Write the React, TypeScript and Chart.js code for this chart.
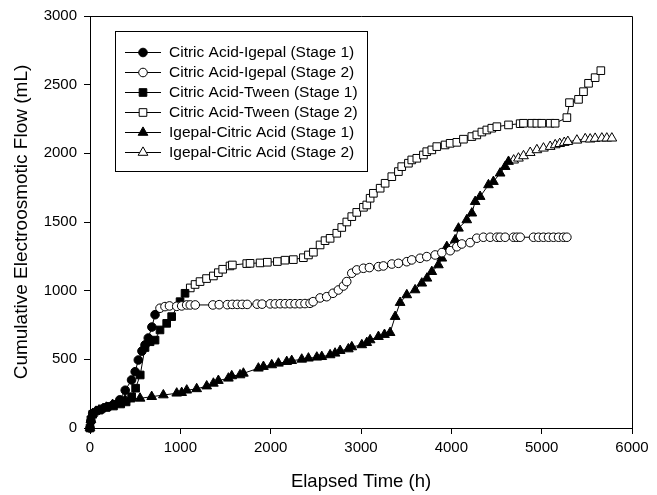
import React, { useEffect, useRef } from "react";
import { Chart, registerables } from "chart.js";
import { drawPoint } from "chart.js/helpers";

Chart.register(...registerables);

const FONT = 'Arial, "Liberation Sans", sans-serif';

// Citric Acid-Igepal (Stage 1)
const caIgS1Time = [0, 10, 30, 80, 140, 200, 260, 330, 390, 460, 500, 535, 575, 610, 645, 685, 720];
const caIgS1Flow = [0, 50, 105, 125, 140, 155, 170, 205, 275, 350, 410, 495, 560, 605, 655, 735, 825];

// Citric Acid-Igepal (Stage 2)
const caIgS2Time = [775, 830, 880, 960, 1015, 1070, 1110, 1165, 1360, 1430, 1520, 1575, 1630, 1685, 1740, 1850, 1905, 1995, 2050, 2105, 2160, 2215, 2270, 2325, 2380, 2436, 2470, 2547, 2620, 2690, 2750, 2806, 2842, 2898, 2953, 3027, 3093, 3193, 3248, 3341, 3414, 3507, 3562, 3654, 3728, 3821, 3895, 3987, 4061, 4116, 4208, 4282, 4355, 4430, 4504, 4540, 4596, 4688, 4725, 4762, 4910, 4965, 5020, 5076, 5131, 5187, 5242, 5279];
const caIgS2Flow = [872, 884, 889, 886, 889, 896, 896, 896, 896, 898, 898, 900, 900, 900, 900, 902, 902, 904, 904, 905, 905, 905, 905, 905, 906, 908, 920, 947, 956, 981, 1005, 1034, 1066, 1127, 1151, 1163, 1168, 1175, 1180, 1194, 1199, 1211, 1224, 1236, 1248, 1260, 1277, 1291, 1320, 1340, 1350, 1382, 1389, 1389, 1389, 1389, 1389, 1389, 1389, 1389, 1389, 1389, 1389, 1389, 1389, 1389, 1389, 1389];

// Citric Acid-Tween (Stage 1)
const caTwS1Time = [0, 10, 30, 100, 180, 260, 340, 400, 461, 505, 556, 609, 665, 720, 775, 849, 904, 997, 1052];
const caTwS1Flow = [0, 60, 100, 130, 150, 160, 175, 190, 228, 290, 386, 586, 628, 640, 714, 762, 811, 920, 981];

// Citric Acid-Tween (Stage 2)
const caTwS2Time = [1110, 1163, 1218, 1290, 1366, 1421, 1469, 1550, 1576, 1735, 1772, 1883, 1963, 2074, 2159, 2251, 2362, 2418, 2473, 2547, 2602, 2658, 2732, 2787, 2843, 2898, 2953, 3027, 3064, 3101, 3137, 3212, 3267, 3341, 3414, 3451, 3525, 3562, 3618, 3691, 3728, 3784, 3839, 3931, 3987, 4061, 4134, 4227, 4282, 4338, 4393, 4448, 4504, 4633, 4762, 4799, 4891, 4947, 5002, 5094, 5149, 5279, 5308, 5408, 5463, 5519, 5592, 5655];
const caTwS2Flow = [1020, 1045, 1066, 1088, 1107, 1131, 1156, 1180, 1187, 1197, 1199, 1202, 1207, 1212, 1222, 1226, 1240, 1260, 1280, 1333, 1364, 1381, 1418, 1460, 1500, 1539, 1570, 1607, 1624, 1673, 1709, 1746, 1782, 1830, 1867, 1903, 1928, 1952, 1964, 1988, 2012, 2025, 2049, 2061, 2073, 2080, 2103, 2122, 2134, 2155, 2170, 2183, 2194, 2207, 2216, 2219, 2219, 2219, 2219, 2219, 2219, 2260, 2369, 2393, 2449, 2510, 2551, 2602];

// Igepal-Citric Acid (Stage 1)
const igCaS1Time = [0, 10, 30, 100, 180, 250, 314, 388, 443, 554, 683, 812, 960, 1015, 1071, 1181, 1292, 1366, 1421, 1532, 1569, 1661, 1698, 1864, 1920, 2012, 2086, 2178, 2233, 2344, 2418, 2511, 2566, 2658, 2713, 2769, 2860, 2898, 3009, 3064, 3101, 3193, 3260, 3322, 3378, 3433, 3507, 3599, 3673, 3730, 3784, 3857, 3895, 3950, 4042, 4079, 4171, 4227, 4264, 4319, 4411, 4466, 4540, 4596, 4633];
const igCaS1Flow = [0, 60, 105, 130, 150, 170, 192, 205, 210, 216, 228, 240, 253, 257, 275, 285, 305, 325, 345, 362, 379, 386, 398, 435, 447, 459, 471, 483, 490, 500, 508, 515, 519, 532, 544, 563, 575, 590, 605, 621, 641, 665, 680, 694, 811, 913, 969, 1005, 1054, 1090, 1138, 1187, 1236, 1320, 1369, 1454, 1515, 1564, 1648, 1685, 1770, 1794, 1855, 1903, 1940];

// Igepal-Citric Acid (Stage 2)
const igCaS2Time = [4690, 4743, 4799, 4873, 4947, 5020, 5094, 5150, 5200, 5250, 5290, 5390, 5482, 5537, 5592, 5666, 5721, 5777];
const igCaS2Flow = [1950, 1964, 1981, 2005, 2025, 2037, 2049, 2061, 2070, 2078, 2085, 2095, 2105, 2103, 2108, 2110, 2110, 2110];

const seriesLabels = [
  "Citric Acid-Igepal (Stage 1)",
  "Citric Acid-Igepal (Stage 2)",
  "Citric Acid-Tween (Stage 1)",
  "Citric Acid-Tween (Stage 2)",
  "Igepal-Citric Acid (Stage 1)",
  "Igepal-Citric Acid (Stage 2)",
];

const xTicks = [0, 1000, 2000, 3000, 4000, 5000, 6000];
const yTicks = [0, 500, 1000, 1500, 2000, 2500, 3000];

const toPoints = (t: number[], f: number[]) => t.map((x, i) => ({ x, y: f[i] }));

const styleFor = (shape: string, filled: boolean) => {
  const radius = shape === "circle" ? 4.3 : shape === "rect" ? 5.4 : 5.6;
  return {
    pointStyle: shape,
    pointRadius: radius,
    pointHoverRadius: radius,
    pointBorderWidth: 1,
    pointBorderColor: "#000",
    pointBackgroundColor: filled ? "#000" : "#fff",
    borderColor: "#000",
    borderWidth: 1,
    showLine: true,
    fill: false,
    tension: 0,
    clip: false as const,
  };
};

const framePlugin = {
  id: "frameAndLegend",
  afterDatasetsDraw(chart: any) {
    const { ctx, chartArea } = chart;
    ctx.save();
    ctx.strokeStyle = "#000";
    ctx.lineWidth = 1;
    ctx.beginPath();
    ctx.moveTo(chartArea.left, chartArea.top + 0.5);
    ctx.lineTo(chartArea.right + 0.5, chartArea.top + 0.5);
    ctx.lineTo(chartArea.right + 0.5, chartArea.bottom);
    ctx.stroke();

    // legend box
    const bx = 115.5, by = 31.5, bw = 252, bh = 140;
    ctx.fillStyle = "#fff";
    ctx.fillRect(bx, by, bw, bh);
    ctx.strokeRect(bx, by, bw, bh);
    ctx.font = `15.5px ${FONT}`;
    ctx.textBaseline = "middle";
    ctx.textAlign = "left";
    chart.data.datasets.forEach((ds: any, i: number) => {
      const y = 52 + i * 20;
      ctx.beginPath();
      ctx.strokeStyle = "#000";
      ctx.lineWidth = 1;
      ctx.moveTo(125, y + 0.5);
      ctx.lineTo(161, y + 0.5);
      ctx.stroke();
      ctx.fillStyle = ds.pointBackgroundColor;
      ctx.strokeStyle = "#000";
      drawPoint(ctx, { pointStyle: ds.pointStyle, radius: ds.pointRadius, borderWidth: 1, rotation: 0 }, 143, y + 0.5);
      ctx.fillStyle = "#000";
      ctx.fillText(ds.label, 169, y + 1);
    });
    ctx.restore();
  },
};

export default function App() {
  const ref = useRef<HTMLCanvasElement | null>(null);
  useEffect(() => {
    document.body.style.margin = "0";
    const canvas = ref.current!;
    const chart = new Chart(canvas, {
      type: "scatter",
      data: {
        datasets: [
          { label: seriesLabels[0], data: toPoints(caIgS1Time, caIgS1Flow), ...styleFor("circle", true) },
          { label: seriesLabels[1], data: toPoints(caIgS2Time, caIgS2Flow), ...styleFor("circle", false) },
          { label: seriesLabels[2], data: toPoints(caTwS1Time, caTwS1Flow), ...styleFor("rect", true) },
          { label: seriesLabels[3], data: toPoints(caTwS2Time, caTwS2Flow), ...styleFor("rect", false) },
          { label: seriesLabels[4], data: toPoints(igCaS1Time, igCaS1Flow), ...styleFor("triangle", true) },
          { label: seriesLabels[5], data: toPoints(igCaS2Time, igCaS2Flow), ...styleFor("triangle", false) },
        ] as any,
      },
      options: {
        animation: false,
        responsive: false,
        devicePixelRatio: 1,
        layout: { padding: { top: 16, right: 25, left: 0, bottom: 0 } },
        plugins: { legend: { display: false }, tooltip: { enabled: false } },
        scales: {
          x: {
            type: "linear",
            min: 0,
            max: 6000,
            afterBuildTicks: (s: any) => { s.ticks = xTicks.map((v) => ({ value: v })); },
            afterFit: (s: any) => { s.height = 67; },
            ticks: { color: "#000", font: { family: FONT, size: 15 }, padding: 5, maxRotation: 0, callback: (v: any) => String(v) },
            grid: { drawOnChartArea: false, drawTicks: true, tickLength: 6, color: "#000", lineWidth: 1 },
            border: { display: true, color: "#000", width: 1 },
            title: { display: true, text: "Elapsed Time (h)", color: "#000", font: { family: FONT, size: 18.5 }, padding: { top: 0, bottom: 2 } },
          },
          y: {
            type: "linear",
            min: 0,
            max: 3000,
            afterBuildTicks: (s: any) => { s.ticks = yTicks.map((v) => ({ value: v })); },
            afterFit: (s: any) => { s.width = 90; },
            ticks: { color: "#000", font: { family: FONT, size: 15 }, padding: 7, callback: (v: any) => String(v) },
            grid: { drawOnChartArea: false, drawTicks: true, tickLength: 6, color: "#000", lineWidth: 1 },
            border: { display: true, color: "#000", width: 1 },
            title: { display: true, text: "Cumulative Electroosmotic Flow (mL)", color: "#000", font: { family: FONT, size: 19 }, padding: { top: 10, bottom: 0 } },
          },
        },
      } as any,
      plugins: [framePlugin],
    });
    return () => chart.destroy();
  }, []);
  return <canvas ref={ref} width={657} height={495} style={{ display: "block" }} />;
}
